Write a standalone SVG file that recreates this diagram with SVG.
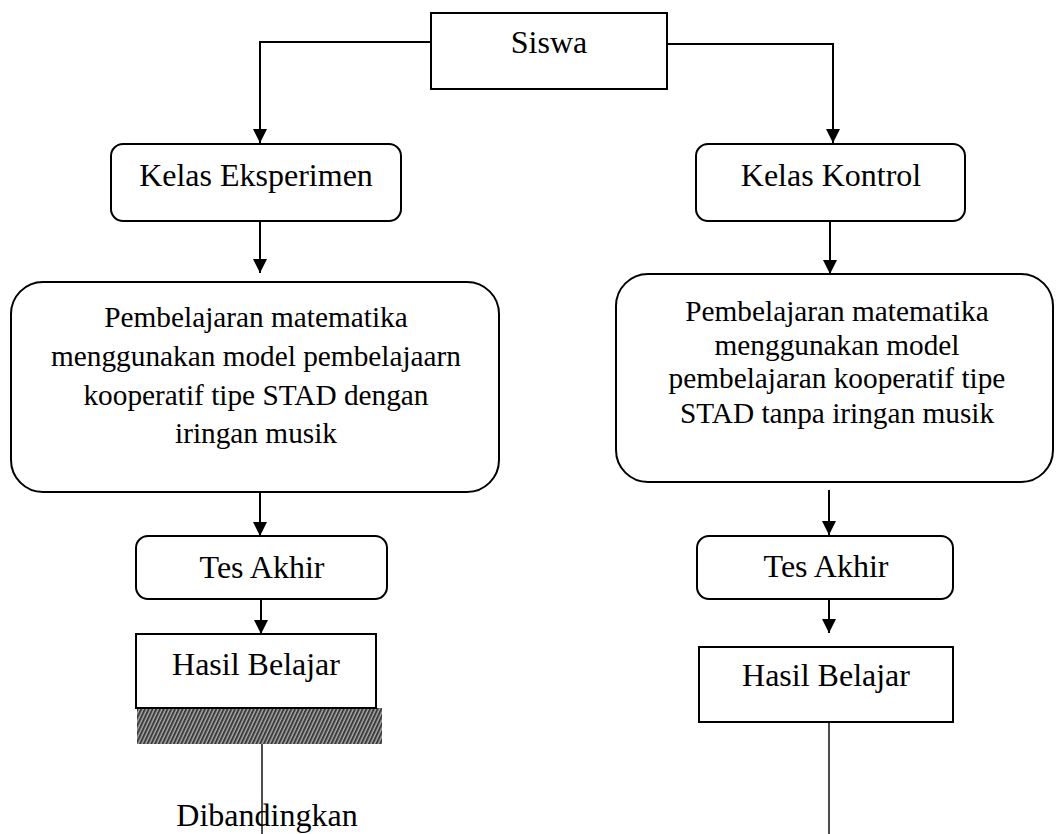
<svg xmlns="http://www.w3.org/2000/svg" width="1056" height="834" viewBox="0 0 1056 834">
<defs>
<style>
.box{fill:#fff;stroke:#000;stroke-width:2}
.t{font-family:"Liberation Serif","Times New Roman",serif;font-size:32px;fill:#000;text-anchor:middle}
.tb{font-family:"Liberation Serif","Times New Roman",serif;font-size:29.3px;fill:#000;text-anchor:middle}
.c{fill:none;stroke:#000;stroke-width:2}
.thin{fill:none;stroke:#000;stroke-width:1.4}
</style>
<marker id="ah" markerWidth="14" markerHeight="14" refX="14" refY="7" orient="auto" markerUnits="userSpaceOnUse">
<path d="M0,0 L14,7 L0,14 z" fill="#000"/>
</marker>
<pattern id="hatch" patternUnits="userSpaceOnUse" width="3.4" height="3.4" patternTransform="rotate(25)">
<rect width="3.4" height="3.4" fill="#3c3c3c"/>
<line x1="1" y1="0" x2="1" y2="3.4" stroke="#c8c8c8" stroke-width="1.1"/>
</pattern>
</defs>
<rect width="1056" height="834" fill="#fff"/>

<g id="connectors">
<path class="c" d="M431,42 H260 V143" marker-end="url(#ah)"/>
<path class="c" d="M667,44 H833 V143" marker-end="url(#ah)"/>
<path class="c" d="M260,221 V273" marker-end="url(#ah)"/>
<path class="c" d="M830,221 V274" marker-end="url(#ah)"/>
<path class="c" d="M260,492 V536" marker-end="url(#ah)"/>
<path class="c" d="M829,490 V535" marker-end="url(#ah)"/>
<path class="c" d="M261,599 V634" marker-end="url(#ah)"/>
<path class="c" d="M829,599 V633" marker-end="url(#ah)"/>
<path class="thin" d="M262,744 V834"/>
<path class="thin" d="M829,722 V834"/>
</g>

<g id="siswa">
<rect class="box" x="431" y="13" width="236" height="76"/>
<text class="t" x="549" y="53">Siswa</text>
</g>

<g id="kelas-eksperimen">
<rect class="box" x="111" y="144" width="290" height="77" rx="12"/>
<text class="t" x="256" y="186">Kelas Eksperimen</text>
</g>

<g id="kelas-kontrol">
<rect class="box" x="696" y="144" width="269" height="77" rx="12"/>
<text class="t" x="831" y="186">Kelas Kontrol</text>
</g>

<g id="pembelajaran-eksperimen">
<rect class="box" x="11" y="282" width="488" height="210" rx="32"/>
<text class="tb" x="256" y="327">Pembelajaran matematika</text>
<text class="tb" x="256" y="366">menggunakan model pembelajaarn</text>
<text class="tb" x="256" y="405">kooperatif tipe STAD dengan</text>
<text class="tb" x="256" y="443">iringan musik</text>
</g>

<g id="pembelajaran-kontrol">
<rect class="box" x="616" y="274" width="437" height="208" rx="32"/>
<text class="tb" x="837" y="321">Pembelajaran matematika</text>
<text class="tb" x="837" y="355">menggunakan model</text>
<text class="tb" x="837" y="388">pembelajaran kooperatif tipe</text>
<text class="tb" x="837" y="423">STAD tanpa iringan musik</text>
</g>

<g id="tes-akhir-eksperimen">
<rect class="box" x="136" y="536" width="251" height="63" rx="12"/>
<text class="t" x="262" y="578">Tes Akhir</text>
</g>

<g id="tes-akhir-kontrol">
<rect class="box" x="697" y="536" width="256" height="63" rx="12"/>
<text class="t" x="826" y="577">Tes Akhir</text>
</g>

<g id="hasil-belajar-eksperimen">
<rect x="137" y="708" width="245" height="36" fill="url(#hatch)"/>
<rect class="box" x="136" y="634" width="240" height="74"/>
<text class="t" x="256" y="675">Hasil Belajar</text>
</g>

<g id="hasil-belajar-kontrol">
<rect class="box" x="699" y="647" width="254" height="75"/>
<text class="t" x="826" y="686">Hasil Belajar</text>
</g>

<g id="dibandingkan">
<text class="t" x="267" y="826">Dibandingkan</text>
</g>
</svg>
